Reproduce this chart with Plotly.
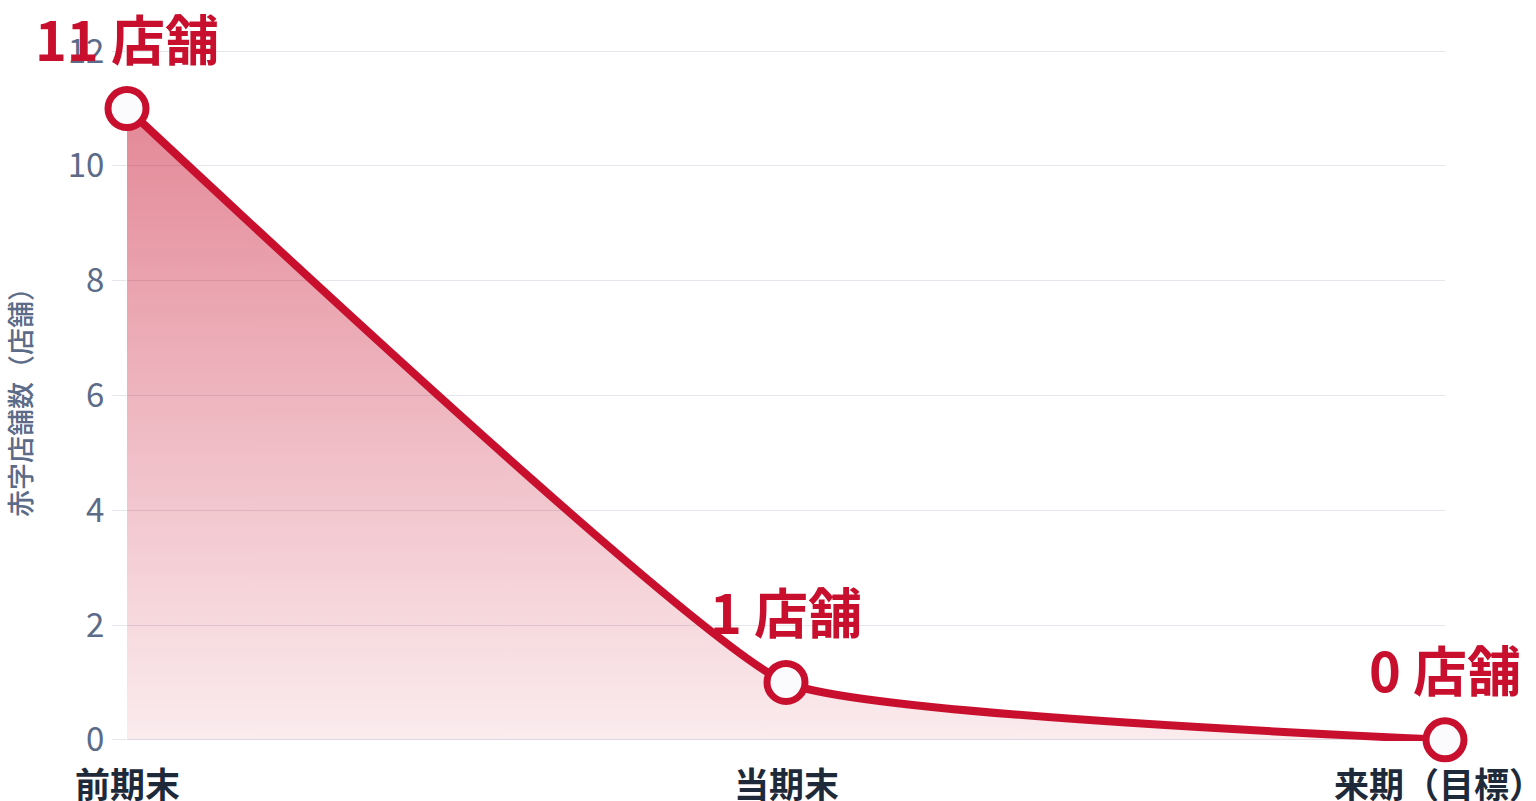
import plotly.graph_objects as go

categories = ["前期末", "当期末", "来期（目標）"]
values = [11, 1, 0]
labels = ["11 店舗", "1 店舗", "0 店舗"]
y_ticks = [0, 2, 4, 6, 8, 10, 12]
y_title = "赤字店舗数（店舗）"

RED = "#c8102e"
FONT = "Noto Sans CJK JP"

fig = go.Figure()
fig.add_trace(go.Scatter(
    x=categories, y=values,
    mode="lines+markers",
    line=dict(color=RED, width=8, shape="spline", smoothing=0.35),
    marker=dict(size=38, color="#fbfbfd", line=dict(color=RED, width=7)),
    fill="tozeroy",
    fillgradient=dict(type="vertical",
                      colorscale=[[0, "rgba(200,16,46,0.08)"], [1, "rgba(200,16,46,0.5)"]]),
    cliponaxis=False,
    hoverinfo="skip",
))

for c, v, t in zip(categories, values, labels):
    fig.add_annotation(
        x=c, y=v, text=t, showarrow=False,
        xanchor="center", yanchor="bottom", yshift=30,
        font=dict(family=FONT, size=54, color=RED, weight=700),
    )

# category labels under the axis (last one nudged left to stay inside the page)
for i, c in enumerate(categories):
    fig.add_annotation(
        x=c, y=0, text=c, showarrow=False,
        xanchor="center", yanchor="top", yshift=-15,
        xshift=-6 if i == len(categories) - 1 else 0,
        font=dict(family=FONT, size=35, color="#1e2a3a", weight=700),
    )

fig.update_layout(
    width=1536, height=801,
    margin=dict(l=127, r=91, t=50, b=60),
    paper_bgcolor="white", plot_bgcolor="white",
    showlegend=False,
    font=dict(family=FONT),
    xaxis=dict(
        type="category", range=[0, 2], automargin=False,
        showgrid=False, showline=False, zeroline=False,
        showticklabels=False, ticks="",
    ),
    yaxis=dict(
        range=[-0.02, 12.02], tickvals=y_ticks, automargin=False,
        showgrid=True, gridcolor="#e3e6ec", gridwidth=1,
        zeroline=False, showline=False,
        ticks="outside", ticklen=14, tickcolor="#e3e6ec",
        tickfont=dict(family=FONT, size=33, color="#5b6b88"),
        ticklabelstandoff=1,
        title=dict(text=y_title, font=dict(family=FONT, size=27, color="#5b6b88", weight=500), standoff=28),
    ),
)

fig.write_html("out.html")
